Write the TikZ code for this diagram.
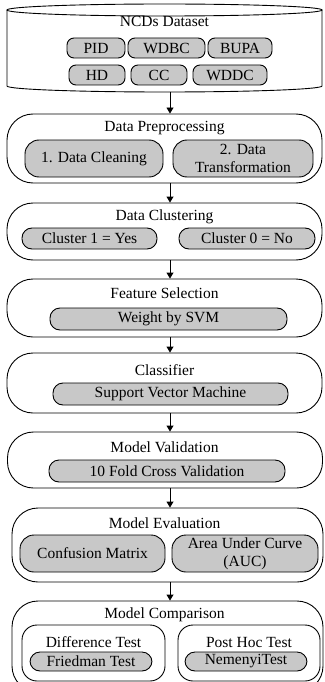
\documentclass[tikz,border=0pt]{standalone}
\usepackage{fontspec}
\setmainfont{Liberation Serif}
\usetikzlibrary{arrows.meta,calc}
\definecolor{boxgray}{RGB}{200,200,200}
\tikzset{
  txt/.style={font=\fontsize{15.5}{18}\selectfont, inner sep=0pt, align=center},
  outerbox/.style={draw, line width=0.9pt, rounded corners=26pt, minimum width=315pt, inner sep=0pt},
  subbox/.style={draw, line width=0.9pt, rounded corners=15pt, inner sep=0pt},
  pill/.style={draw, line width=0.9pt, fill=boxgray, rounded corners=10pt, inner sep=0pt, txt},
  bigpill/.style={draw, line width=0.9pt, fill=boxgray, rounded corners=14pt, inner sep=0pt, txt},
  dsbox/.style={draw, line width=0.9pt, fill=boxgray, rounded corners=7pt, inner sep=0pt, minimum height=20pt, txt},
  arr/.style={line width=0.9pt, -{Triangle[length=6pt,width=7pt]}}
}
\begin{document}
\begin{tikzpicture}[x=1pt,y=-1pt]
\clip (0,0) rectangle (324,682);
% cylinder
\draw[line width=0.9pt] (7,10) -- (7,86) .. controls (7,89.3) and (77.5,92) .. (164.5,92)
  .. controls (251.5,92) and (322,89.3) .. (322,86) -- (322,10);
\draw[line width=0.9pt] (164.5,10) ellipse [x radius=157.5, y radius=6];
\coordinate (cylbot) at (170,92);
\node[txt] (t0) at (164.5,21) {NCDs Dataset};
\node[dsbox, minimum width=58pt] (pid) at (96,48) {PID};
\node[dsbox, minimum width=77pt] (wdbc) at (166.5,48) {WDBC};
\node[dsbox, minimum width=64pt] (bupa) at (240,48) {BUPA};
\node[dsbox, minimum width=56pt] (hd) at (97,75) {HD};
\node[dsbox, minimum width=56pt] (cc) at (159,75) {CC};
\node[dsbox, minimum width=74pt] (wddc) at (230,75) {WDDC};
% Data preprocessing
\node[outerbox, minimum height=69pt] (dp) at (164.5,148.5) {};
\node[txt] (t1) at (164.5,128) {Data Preprocessing};
\node[bigpill, minimum width=138pt, minimum height=37pt] (dp1) at (94,158.5) {1. Data Cleaning};
\node[bigpill, minimum width=140pt, minimum height=37pt] (dp2) at (243,158.5) {2. Data\\Transformation};
% Data clustering
\node[outerbox, minimum height=57pt] (dc) at (164.5,231.5) {};
\node[txt] (t2) at (164.5,217) {Data Clustering};
\node[pill, minimum width=135pt, minimum height=21pt] (dc1) at (89.5,238.5) {Cluster 1 = Yes};
\node[pill, minimum width=136pt, minimum height=21pt] (dc2) at (247,238.5) {Cluster 0 = No};
% Feature selection
\node[outerbox, minimum height=58pt] (fs) at (164.5,308) {};
\node[txt] (t3) at (164.5,293) {Feature Selection};
\node[pill, minimum width=237pt, minimum height=22pt] (fs1) at (168.5,319) {Weight by SVM};
% Classifier
\node[outerbox, minimum height=60pt] (cl) at (164.5,383) {};
\node[txt] (t4) at (164.5,370) {Classifier};
\node[pill, minimum width=235pt, minimum height=22pt] (cl1) at (170.5,394) {Support Vector Machine};
% Model validation
\node[outerbox, minimum height=56pt] (mv) at (165,460) {};
\node[txt] (t5) at (164.5,447) {Model Validation};
\node[pill, minimum width=236pt, minimum height=22pt] (mv1) at (167,471) {10 Fold Cross Validation};
% Model evaluation
\node[outerbox, minimum width=311pt, minimum height=74pt] (me) at (167.5,545) {};
\node[txt] (t6) at (164.5,523) {Model Evaluation};
\node[bigpill, minimum width=145pt, minimum height=37pt] (me1) at (92.5,553.5) {Confusion Matrix};
\node[bigpill, minimum width=146pt, minimum height=37pt] (me2) at (245,553.5) {Area Under Curve\\(AUC)};
% Model comparison
\node[outerbox, minimum width=311pt, minimum height=91pt] (mc) at (167.5,646.5) {};
\node[txt] (t7) at (164.5,615) {Model Comparison};
\node[subbox, minimum width=143pt, minimum height=56pt] (mcl) at (93.5,653) {};
\node[subbox, minimum width=142pt, minimum height=56pt] (mcr) at (249,653) {};
\node[txt] (t8) at (93.5,642) {Difference Test};
\node[txt] (t9) at (249,642) {Post Hoc Test};
\node[pill, minimum width=122pt, minimum height=19pt] (mcl1) at (91,661.5) {Friedman Test};
\node[pill, minimum width=122pt, minimum height=19pt] (mcr1) at (246,661.5) {NemenyiTest};
% arrows
\draw[arr] (cylbot) -- (dp.north -| cylbot);
\draw[arr] (dp.south -| cylbot) -- (dc.north -| cylbot);
\draw[arr] (dc.south -| cylbot) -- (fs.north -| cylbot);
\draw[arr] (fs.south -| cylbot) -- (cl.north -| cylbot);
\draw[arr] (cl.south -| cylbot) -- (mv.north -| cylbot);
\draw[arr] (mv.south -| cylbot) -- (me.north -| cylbot);
\draw[arr] (me.south -| cylbot) -- (mc.north -| cylbot);
\end{tikzpicture}
\end{document}
